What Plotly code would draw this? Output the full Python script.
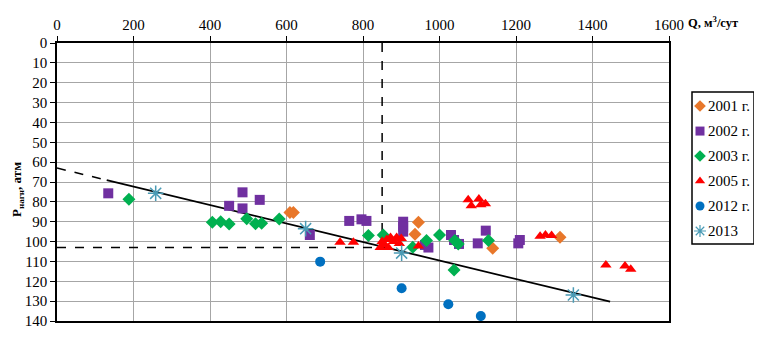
import plotly.graph_objects as go

# ---------------- data ----------------
q_2001 = [609, 618, 945, 936, 1139, 1315]
p_2001 = [85.3, 85.3, 90.3, 96.3, 103.4, 97.8]

q_2002 = [134, 450, 485, 485, 530, 661, 764, 796, 809, 905, 905, 905, 962, 971,
          1030, 1038, 1051, 1100, 1121, 1206, 1210]
p_2002 = [75.7, 82, 75.2, 83.3, 79, 96.7, 89.6, 88.8, 89.6, 90, 92.5, 95, 101.7, 103,
          96.7, 99.2, 101.2, 100.9, 94.5, 100.9, 99.2]

q_2003 = [188, 406, 428, 450, 496, 519, 535, 581, 814, 853, 930, 966, 1000, 1040,
          1049, 1038, 1128]
p_2003 = [78.7, 90.3, 90, 91.1, 88.5, 91, 90.8, 88.6, 97, 96.7, 102.9, 99.5, 96.7, 99.5,
          101.2, 114.3, 99.5]

q_2005 = [740, 775, 845, 850, 855, 862, 866, 872, 880, 888, 895, 900, 945,
          1075, 1083, 1103, 1108, 1120, 1263, 1277, 1293, 1435, 1485, 1500]
p_2005 = [100.3, 100.3, 103, 100, 101.5, 99, 103, 98, 100, 98, 101, 98.5, 102.2,
          79, 82, 78.5, 81.5, 81, 97.3, 96.7, 97, 111.8, 112.3, 114]

q_2012 = [688, 901, 1023, 1108]
p_2012 = [110.1, 123.5, 131.6, 137.5]

q_2013 = [258, 650, 901, 1350]
p_2013 = [75.7, 93.5, 105.8, 126.9]

trend_dash_q = [0, 130]
trend_dash_p = [63, 69.05]
trend_solid_q = [130, 1446]
trend_solid_p = [69.05, 130.3]

guide_q = 850
guide_p = 103

x_ticks = [0, 200, 400, 600, 800, 1000, 1200, 1400, 1600]
y_ticks = list(range(0, 141, 10))

series_names = ["2001 г.", "2002 г.", "2003 г.", "2005 г.", "2012 г.", "2013"]

# ---------------- layout helpers ----------------
# page body has an 8px margin, so the figure is placed at (8, 8)
OFF = 8
W, H = 762 - OFF, 341 - OFF


def px(x):
    return (x - OFF) / W


def py(y):
    return 1 - (y - OFF) / H


FONT = "Liberation Serif, Times New Roman, serif"
styles = [
    dict(symbol="diamond", color="#E8772A", size=10),
    dict(symbol="square", color="#7030A0", size=10),
    dict(symbol="diamond", color="#00B050", size=10),
    dict(symbol="triangle-up", color="#FF0000", size=10),
    dict(symbol="circle", color="#0070C0", size=10),
    dict(symbol="asterisk-open", color="#4A9BB5", size=13),
]
series = [(q_2001, p_2001), (q_2002, p_2002), (q_2003, p_2003),
          (q_2005, p_2005), (q_2012, p_2012), (q_2013, p_2013)]

fig = go.Figure()

# guide (crosshair) lines
fig.add_trace(go.Scatter(x=[guide_q, guide_q], y=[0, guide_p], mode="lines",
                         line=dict(color="black", width=1.5, dash="dash"),
                         hoverinfo="skip"))
fig.add_trace(go.Scatter(x=[0, guide_q], y=[guide_p, guide_p], mode="lines",
                         line=dict(color="black", width=1.5, dash="dash"),
                         hoverinfo="skip"))
# trend line
fig.add_trace(go.Scatter(x=trend_dash_q, y=trend_dash_p, mode="lines",
                         line=dict(color="black", width=1.5, dash="dash"),
                         hoverinfo="skip"))
fig.add_trace(go.Scatter(x=trend_solid_q, y=trend_solid_p, mode="lines",
                         line=dict(color="black", width=1.8),
                         hoverinfo="skip"))

for (qs, ps), st, name in zip(series, styles, series_names):
    if st["symbol"] == "asterisk-open":
        marker = dict(symbol=st["symbol"], size=st["size"], color=st["color"],
                      line=dict(color=st["color"], width=1.5))
    else:
        marker = dict(symbol=st["symbol"], size=st["size"], color=st["color"],
                      line=dict(width=0))
    fig.add_trace(go.Scatter(x=qs, y=ps, mode="markers", name=name, marker=marker))

# ---------------- manual legend (own hidden axes) ----------------
leg_left, leg_right, leg_top, leg_bottom = 692, 754, 92, 244
row_y = [0.908, 0.743, 0.579, 0.414, 0.25, 0.0855]
for st, name, ry in zip(styles, series_names, row_y):
    if st["symbol"] == "asterisk-open":
        marker = dict(symbol=st["symbol"], size=10, color=st["color"],
                      line=dict(color=st["color"], width=1.2))
    else:
        marker = dict(symbol=st["symbol"], size=9, color=st["color"],
                      line=dict(width=0))
    fig.add_trace(go.Scatter(x=[8], y=[ry], mode="markers", marker=marker,
                             xaxis="x2", yaxis="y2", hoverinfo="skip"))
    fig.add_annotation(x=13.5, y=ry, xref="x2", yref="y2", text=name,
                       showarrow=False, xanchor="left", yanchor="middle",
                       font=dict(family=FONT, size=15, color="black"))

fig.add_shape(type="rect", xref="paper", yref="paper",
              x0=px(leg_left), x1=px(leg_right),
              y0=py(leg_bottom), y1=py(leg_top),
              line=dict(color="black", width=1.5), fillcolor="rgba(0,0,0,0)")

# ---------------- axes titles ----------------
fig.add_annotation(x=px(686), y=py(22), xref="paper", yref="paper",
                   text="<b>Q, м<sup>3</sup>/сут</b>", showarrow=False,
                   xanchor="left", yanchor="middle",
                   font=dict(family=FONT, size=12.5, color="black"))
fig.add_annotation(x=px(17), y=py(190), xref="paper", yref="paper",
                   text="<b>P<sub>нагн</sub>, атм</b>", showarrow=False,
                   textangle=-90, xanchor="center", yanchor="middle",
                   font=dict(family=FONT, size=13, color="black"))

plot_l, plot_r, plot_t, plot_b = 57, 669, 43, 321

fig.update_layout(
    width=W, height=H,
    margin=dict(l=0, r=0, t=0, b=0),
    paper_bgcolor="white", plot_bgcolor="white",
    showlegend=False,
    font=dict(family=FONT, size=15, color="black"),
    xaxis=dict(
        domain=[px(plot_l), px(plot_r)],
        range=[0, 1600], side="top",
        tickvals=x_ticks, ticktext=[str(v) for v in x_ticks],
        ticks="outside", ticklen=5, tickcolor="black",
        showline=True, linecolor="black", linewidth=1.5, mirror=True,
        showgrid=True, gridcolor="#A6A6A6", gridwidth=1,
        zeroline=False, tickfont=dict(family=FONT, size=15),
        automargin=False, fixedrange=True,
    ),
    yaxis=dict(
        domain=[py(plot_b), py(plot_t)],
        range=[140, 0],
        tickvals=y_ticks, ticktext=[str(v) for v in y_ticks],
        ticks="outside", ticklen=5, tickcolor="black",
        showline=True, linecolor="black", linewidth=1.5, mirror=True,
        showgrid=True, gridcolor="#A6A6A6", gridwidth=1,
        zeroline=False, tickfont=dict(family=FONT, size=15),
        automargin=False, fixedrange=True,
    ),
    xaxis2=dict(domain=[px(leg_left), px(leg_right)], range=[0, leg_right - leg_left],
                visible=False, anchor="y2", fixedrange=True),
    yaxis2=dict(domain=[py(leg_bottom), py(leg_top)], range=[0, 1],
                visible=False, anchor="x2", fixedrange=True),
)

fig.write_html("out.html")
